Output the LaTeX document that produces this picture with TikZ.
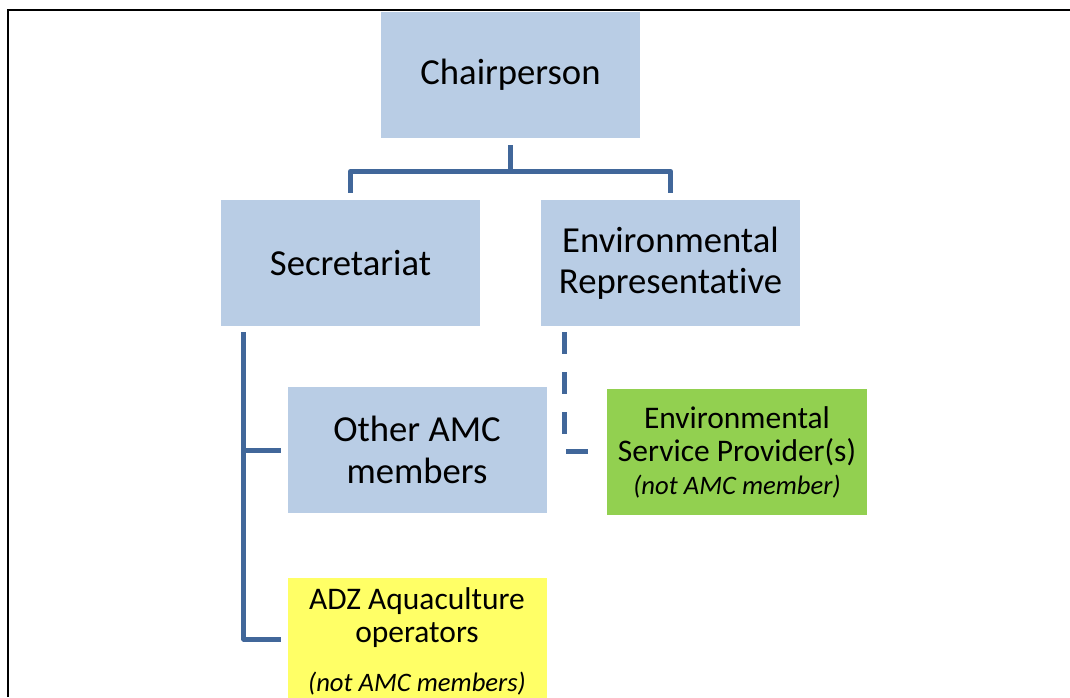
\documentclass[tikz,border=0pt]{standalone}
\usepackage{fontspec}
\setmainfont{Carlito}[Ligatures=NoCommon]
\usetikzlibrary{positioning}
\definecolor{boxblue}{RGB}{185,205,229}
\definecolor{linkblue}{RGB}{65,103,154}
\definecolor{espgreen}{RGB}{146,208,80}
\definecolor{adzyellow}{RGB}{255,255,102}
\newcommand{\membernote}[1]{{\fontsize{20}{24}\selectfont\itshape #1}}

\begin{document}
\begin{tikzpicture}[x=0.75pt,y=-0.75pt,
  box/.style={fill=boxblue, minimum width=194.25pt, minimum height=94.5pt,
    inner sep=0pt, align=center, font=\fontsize{27.5}{31}\selectfont},
  smallbox/.style={box, font=\fontsize{23.6}{24.75}\selectfont},
  link/.style={linkblue, line width=3.75pt, line join=round},
  dashlink/.style={link, dash pattern=on 16.5pt off 13.5pt}]

\useasboundingbox (0,0) rectangle (1070,697);
\clip (0,0) rectangle (1070,697);

% Frame
\draw[line width=1.5pt] (8,697) -- (8,9.5) -- (1070,9.5);

%---------------------------------------
% Boxes
%---------------------------------------
\node[box] (chair)  at (510.5,75)  {Chairperson};
\node[box] (secr)   at (350.5,263) {Secretariat};
\node[box] (envrep) at (670.5,263) {Environmental\\Representative};
\node[box] (other)  at (417,450)   {Other AMC\\members};
\node[smallbox, fill=espgreen, minimum width=195pt] (esp) at (737,452)
  {Environmental\\Service Provider(s)\\\membernote{(not AMC member)}};
\node[smallbox, fill=adzyellow] (adz) at (417,641)
  {ADZ Aquaculture\\operators\\[12pt]\membernote{(not AMC members)}};

%---------------------------------------
% Connectors
%---------------------------------------
\coordinate (fork) at ([yshift=-24.75pt]chair.south);
\draw[link] ([yshift=-5.25pt]chair.south) -- (fork);
\draw[link] ([yshift=5.25pt]secr.north) |- (fork) -| ([yshift=5.25pt]envrep.north);

% Secretariat branch
\coordinate (sdrop) at ([xshift=17.25pt,yshift=-4.5pt]secr.south west);
\draw[link] (sdrop) |- ([xshift=-4.5pt,yshift=1.5pt]adz.west);
\draw[link] (sdrop |- other.west) -- ([xshift=-4.5pt]other.west);

% Environmental Representative branch (dashed)
\coordinate (edrop) at ([xshift=18pt,yshift=-4.5pt]envrep.south west);
\draw[dashlink] (edrop) |- ([xshift=-4.5pt,yshift=0.75pt]esp.west);

\end{tikzpicture}
\end{document}
